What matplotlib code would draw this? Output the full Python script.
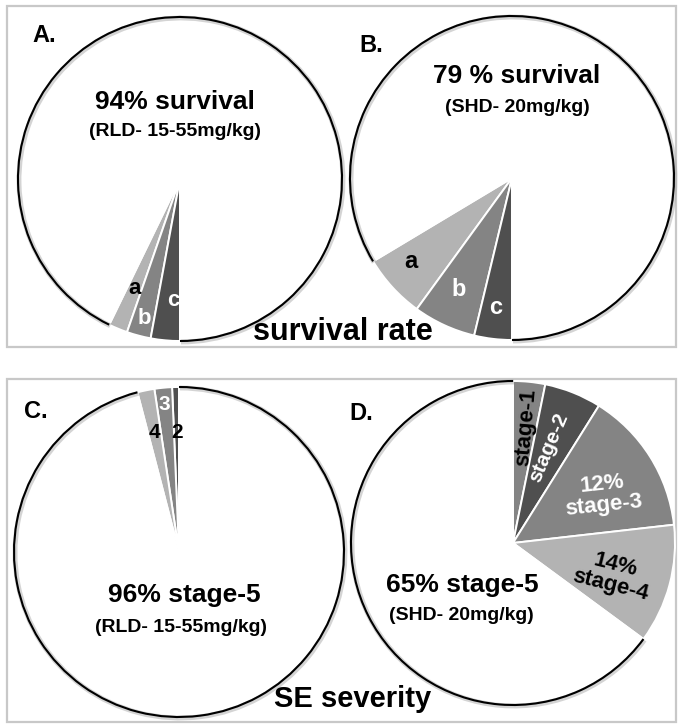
import matplotlib.pyplot as plt
from matplotlib.patches import Arc, Rectangle

W, H = 684, 726
plt.rcParams['font.family'] = ['Liberation Sans', 'DejaVu Sans']
plt.rcParams['font.weight'] = 'bold'

LIGHT, MID, DARK = '#b3b3b3', '#848484', '#4f4f4f'

# A. survival, RLD 15-55 mg/kg
a_names = ['a', 'b', 'c']
a_vals = [1.9, 2.4, 2.9]
a_rest = 92.8
# B. survival, SHD 20 mg/kg
b_names = ['a', 'b', 'c']
b_vals = [6.4, 6.25, 3.75]
b_rest = 83.6
# C. SE severity, RLD
c_names = ['2', '3', '4']
c_vals = [0.67, 1.72, 1.67]
c_rest = 95.94
# D. SE severity, SHD
d_names = ['stage-1', 'stage-2', '12%\nstage-3', '14%\nstage-4']
d_vals = [3.2, 5.7, 14.3, 11.9]
d_rest = 64.9

fig = plt.figure(figsize=(W / 100, H / 100), dpi=100)
ax = fig.add_axes([0, 0, 1, 1])


def iy(y):
    return H - y


def pie(vals, rest, colors, cx, cy, r, start, ccw):
    wedges, _ = ax.pie(vals + [rest], colors=colors + ['white'], startangle=start,
                       counterclock=ccw, center=(cx, iy(cy)), radius=r, frame=True,
                       wedgeprops=dict(edgecolor='white', linewidth=1.4))
    w = wedges[-1]
    # soft shadow + black rim on the white slice only
    ax.add_patch(Arc((w.center[0] + 1, w.center[1] - 1), 2 * r, 2 * r, theta1=w.theta1,
                     theta2=w.theta2, color='#aaaaaa', lw=3.5, alpha=0.5))
    ax.add_patch(Arc(w.center, 2 * r, 2 * r, theta1=w.theta1, theta2=w.theta2,
                     color='black', lw=1.5))
    return wedges


def t(x, y, s, size, color='black', rot=0, ls=1.0):
    ax.text(x, iy(y), s, fontsize=size, color=color, rotation=rot, ha='center',
            va='center', fontweight='bold', linespacing=ls, rotation_mode='anchor')


# frames
ax.add_patch(Rectangle((7, iy(347)), 669, 341, fill=False, ec='#c8c8c8', lw=1.6))
ax.add_patch(Rectangle((7, iy(722)), 669, 343, fill=False, ec='#c8c8c8', lw=1.6))

pie(a_vals, a_rest, [LIGHT, MID, DARK], 180, 179, 162, 270 - sum(a_vals) * 3.6, True)
pie(b_vals, b_rest, [LIGHT, MID, DARK], 512, 178, 162, 270 - sum(b_vals) * 3.6, True)
pie(c_vals, c_rest, [DARK, MID, LIGHT], 179, 552, 165, 90, True)
pie(d_vals, d_rest, [MID, DARK, MID, LIGHT], 513, 543, 162, 90, False)

# panel A
t(44, 35, 'A.', 17)
t(175, 102, '94% survival', 19)
t(175, 131, '(RLD- 15-55mg/kg)', 14)
t(135, 288, a_names[0], 16)
t(144, 318, a_names[1], 16, 'white')
t(173, 301, a_names[2], 16, 'white')

# panel B
t(371, 45, 'B.', 17)
t(517, 76, '79 % survival', 19)
t(517, 107, '(SHD- 20mg/kg)', 14)
t(411, 261, b_names[0], 17)
t(459, 290, b_names[1], 17, 'white')
t(496, 308, b_names[2], 17, 'white')

t(343, 332, 'survival rate', 22)

# panel C
t(36, 412, 'C.', 17)
t(184, 595, '96% stage-5', 19)
t(181, 627, '(RLD- 15-55mg/kg)', 14)
t(177, 432, c_names[0], 15)
t(164, 404, c_names[1], 15, 'white')
t(154, 432, c_names[2], 15)

# panel D
t(361, 414, 'D.', 17)
t(462, 585, '65% stage-5', 19)
t(461, 615, '(SHD- 20mg/kg)', 14)
t(526, 427, d_names[0], 16, 'black', 85)
t(549, 448, d_names[1], 15, 'white', 67)
t(603, 495, d_names[2], 16, 'white', 6)
t(613, 575, d_names[3], 16, 'black', -14)

t(353, 699, 'SE severity', 21)

ax.set_xlim(0, W)
ax.set_ylim(0, H)
ax.set_aspect('equal')
ax.axis('off')
fig.savefig('out.png', dpi=100, facecolor='white')
